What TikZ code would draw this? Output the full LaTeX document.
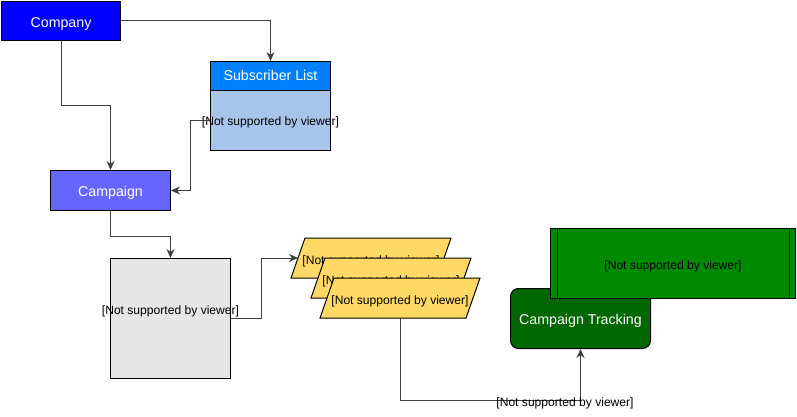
\documentclass[tikz,border=0pt]{standalone}
\usepackage{fontspec}
\setmainfont{Liberation Sans}
\usetikzlibrary{arrows.meta}

\definecolor{companyblue}{HTML}{0000FF}
\definecolor{listhead}{HTML}{007FFF}
\definecolor{listbody}{HTML}{A9C4EB}
\definecolor{campblue}{HTML}{6666FF}
\definecolor{boxgray}{HTML}{E6E6E6}
\definecolor{paryellow}{HTML}{FFD966}
\definecolor{trackgreen}{HTML}{006600}
\definecolor{procgreen}{HTML}{008A00}
\definecolor{linkgray}{HTML}{404040}

\tikzset{
  box/.style={draw=black, line width=1pt, anchor=north west, inner sep=0pt},
  lbl/.style={font=\fontsize{14.2}{16}\selectfont, text=white, text height=13pt, text depth=0.5pt},
  nsv/.style={font=\fontsize{12.1}{14}\selectfont, text=black, inner sep=0pt},
  link/.style={draw=linkgray, line width=1pt, -{Stealth[length=9pt,width=8pt]}},
  parbox/.style={draw=black, line width=1pt, fill=paryellow}
}

\begin{document}
\begin{tikzpicture}[x=1pt,y=-1pt]
  \useasboundingbox (0,0) rectangle (797,417);
  %%%%% boxes %%%%%
  \node[box, fill=companyblue, minimum width=119pt, minimum height=39pt, lbl] (company) at (1,1) {Company};
  \node[box, fill=listhead, minimum width=120pt, minimum height=29pt, lbl, text height=11pt, text depth=2pt] (listhead) at (210,61) {Subscriber List};
  \node[box, fill=listbody, minimum width=120pt, minimum height=60pt] (listbody) at (210,90) {};
  \node[nsv] (listtxt) at ([yshift=-1.5pt]listbody.center) {[Not supported by viewer]};
  \node[box, fill=campblue, minimum width=120pt, minimum height=40pt, lbl] (campaign) at (50,170) {Campaign};
  \node[box, fill=boxgray, minimum width=120pt, minimum height=120pt] (content) at (110,258) {};
  \node[nsv] (contenttxt) at ([yshift=7pt]content.center) {[Not supported by viewer]};

  % stacked parallelograms
  \foreach \nm/\px/\py in {pone/291/238, ptwo/311/258, pthree/320/278}{
    \draw[parbox] (\px,\py+40) -- (\px+14,\py) -- (\px+160,\py) -- (\px+146,\py+40) -- cycle;
    \node[nsv] (\nm) at (\px+80,\py+23.5) {[Not supported by viewer]};
  }
  \coordinate (ponew) at (298,258);
  \coordinate (pthrees) at (400,318);

  \node[box, fill=trackgreen, rounded corners=8pt, minimum width=140pt, minimum height=60pt, lbl] (tracking) at (510,288) {Campaign Tracking};
  \node[box, fill=procgreen, minimum width=245pt, minimum height=70pt] (report) at (550,228) {};
  \draw[line width=1pt] ([xshift=7pt]report.north west) -- ([xshift=7pt]report.south west);
  \draw[line width=1pt] ([xshift=-7pt]report.north east) -- ([xshift=-7pt]report.south east);
  \node[nsv] (reporttxt) at ([yshift=-3pt]report.center) {[Not supported by viewer]};

  %%%%% links %%%%%
  \draw[link] (company.east) -| (listhead.north);
  \draw[link] (company.south) -- ++(0,65) -| (campaign.north);
  \draw[link] (listbody.west) -- ++(-20,0) |- (campaign.east);
  \draw[link] (campaign.south) -- ++(0,25) -| (content.north);
  \draw[link] (content.east) -- ++(30,0) |- (ponew);
  \draw[link] (pthrees) -- ++(0,82) -| (tracking.south);
  \node[nsv] (tracklbl) at (565,403) {[Not supported by viewer]};
\end{tikzpicture}
\end{document}
